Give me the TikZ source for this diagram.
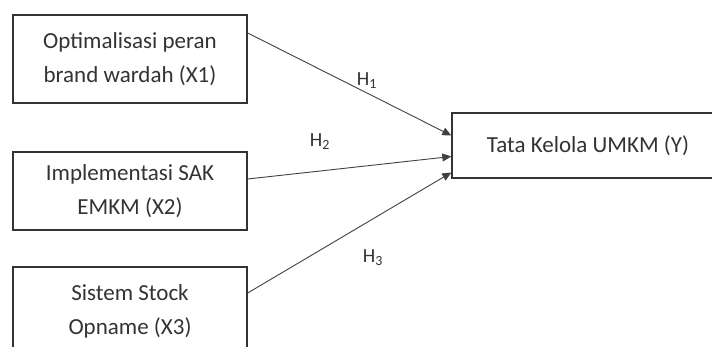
\documentclass[tikz,border=0pt]{standalone}
\usepackage{fontspec}
\setmainfont{Carlito}
\usetikzlibrary{arrows.meta}
\tikzset{
  varbox/.style={draw=black!80, line width=1.4pt, align=center, text=black!80,
    font=\fontsize{23}{34}\selectfont, inner sep=0pt, minimum width=234pt},
  hyparrow/.style={draw=black!75, line width=0.9pt, -{Triangle[length=9pt,width=8pt]}},
  hlabel/.style={text=black!80, font=\fontsize{20}{24}\selectfont}
}

\begin{document}
\begin{tikzpicture}[x=1pt,y=-1pt]
\useasboundingbox (0,0) rectangle (712,347);
\node[varbox, minimum height=88pt] (x1) at (130,59) {Optimalisasi peran\\brand wardah (X1)};
\node[varbox, minimum height=78pt] (x2) at (130,191) {Implementasi SAK\\EMKM (X2)};
\node[varbox, minimum height=88pt] (x3) at (130,311) {Sistem Stock\\Opname (X3)};
\node[varbox, minimum width=272pt, minimum height=65pt] (y) at (588,145.5) {Tata Kelola UMKM (Y)};
%\draw[step=10pt,gray,very thin] (0,0) grid (712,347);
\draw[hyparrow] ([yshift=26pt]x1.east) -- ([yshift=10pt]y.west);
\draw[hyparrow] ([yshift=12pt]x2.east) -- ([yshift=-11pt]y.west);
\draw[hyparrow] ([yshift=18pt]x3.east) -- ([yshift=-27pt]y.west);
\node[hlabel] (h1) at (367,81) {H\textsubscript{1}};
\node[hlabel] (h2) at (320,142) {H\textsubscript{2}};
\node[hlabel] (h3) at (373,258) {H\textsubscript{3}};
\end{tikzpicture}
\end{document}
